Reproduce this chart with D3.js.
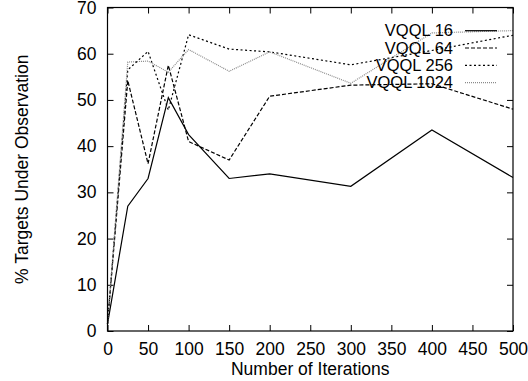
<!DOCTYPE html>
<html lang="en">
<head>
<meta charset="utf-8">
<title>VQQL targets</title>
<script src="https://d3js.org/d3.v7.min.js"></script>
<style>
  body { margin: 0; background: #fff; }
  text { font-family: "Liberation Sans", Arial, sans-serif; font-size: 17.5px; fill: #000; }
</style>
</head>
<body>
<div id="chart"></div>
<script>
// data
var iterations = [0, 25, 50, 75, 100, 150, 200, 300, 400, 500];
var vqql16   = [1.5, 27, 33, 50.5, 42.5, 33, 34, 31.3, 43.5, 33.2];
var vqql64   = [1.5, 54.2, 36.2, 57.5, 41, 37, 50.8, 53.2, 53.5, 48];
var vqql256  = [1.5, 56.5, 60.5, 47.8, 64.1, 61, 60.4, 57.6, 60.7, 64];
var vqql1024 = [1.5, 58.2, 58.4, 56, 60.9, 56.2, 60.4, 53.6, 64.5, 65];
var seriesNames = ["VQQL 16", "VQQL 64", "VQQL 256", "VQQL 1024"];
var xTicks = d3.range(0, 501, 50);
var yTicks = d3.range(0, 71, 10);

var width = 528, height = 381;
var margin = {top: 7.5, right: 15, bottom: 50, left: 107.5};

var svg = d3.select("#chart").append("svg")
    .attr("width", width)
    .attr("height", height);

var x = d3.scaleLinear().domain([0, 500]).range([margin.left, width - margin.right]);
var y = d3.scaleLinear().domain([0, 70]).range([height - margin.bottom, margin.top]);

var styles = [
  {stroke: "#000", dash: null},
  {stroke: "#000", dash: "4,2"},
  {stroke: "#000", dash: "2,2.5"},
  {stroke: "#8a8a8a", dash: "1,1"}
];
var allSeries = [vqql16, vqql64, vqql256, vqql1024];

// axes with inward ticks, mirrored on top and right
svg.append("g")
    .attr("transform", "translate(0," + y(0) + ")")
    .call(d3.axisBottom(x).tickValues(xTicks).tickSizeInner(-6).tickSizeOuter(0).tickPadding(12))
    .call(function(g) { g.select(".domain").remove(); });
svg.append("g")
    .attr("transform", "translate(0," + y(70) + ")")
    .call(d3.axisTop(x).tickValues(xTicks).tickSizeInner(-6).tickSizeOuter(0).tickFormat(""))
    .call(function(g) { g.select(".domain").remove(); });
svg.append("g")
    .attr("transform", "translate(" + x(0) + ",0)")
    .call(d3.axisLeft(y).tickValues(yTicks).tickSizeInner(-6).tickSizeOuter(0).tickPadding(11))
    .call(function(g) { g.select(".domain").remove(); });
svg.append("g")
    .attr("transform", "translate(" + x(500) + ",0)")
    .call(d3.axisRight(y).tickValues(yTicks).tickSizeInner(-6).tickSizeOuter(0).tickFormat(""))
    .call(function(g) { g.select(".domain").remove(); });

svg.selectAll(".tick text").style("font-size", "17.5px").attr("fill", "#000");

// lines
var line = d3.line()
    .x(function(d, i) { return x(iterations[i]); })
    .y(function(d) { return y(d); });

allSeries.forEach(function(s, i) {
  svg.append("path")
      .datum(s)
      .attr("d", line)
      .attr("fill", "none")
      .attr("stroke", styles[i].stroke)
      .attr("stroke-width", 1.2)
      .attr("stroke-dasharray", styles[i].dash);
});

// frame
svg.append("rect")
    .attr("x", x(0)).attr("y", y(70))
    .attr("width", x(500) - x(0)).attr("height", y(0) - y(70))
    .attr("fill", "none").attr("stroke", "#000").attr("stroke-width", 1.2);

// legend
var legend = svg.append("g");
seriesNames.forEach(function(name, i) {
  var ly = 30.7 + i * 17.3;
  legend.append("text")
      .attr("x", 453).attr("y", ly)
      .attr("dy", "0.35em")
      .attr("text-anchor", "end")
      .style("font-size", "16.5px")
      .text(name);
  legend.append("line")
      .attr("x1", 465).attr("x2", 497)
      .attr("y1", ly).attr("y2", ly)
      .attr("stroke", styles[i].stroke)
      .attr("stroke-width", 1.2)
      .attr("stroke-dasharray", styles[i].dash);
});

// axis titles
svg.append("text")
    .attr("x", (x(0) + x(500)) / 2).attr("y", 375)
    .attr("text-anchor", "middle")
    .text("Number of Iterations");
svg.append("text")
    .attr("transform", "translate(28," + (y(0) + y(70)) / 2 + ") rotate(-90)")
    .attr("text-anchor", "middle")
    .text("% Targets Under Observation");
</script>
</body>
</html>
